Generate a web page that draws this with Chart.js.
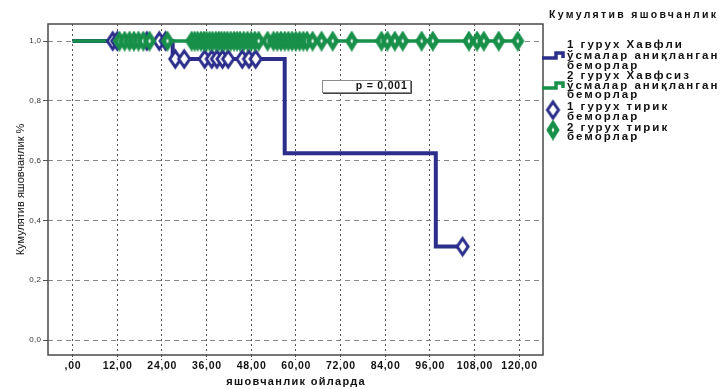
<!DOCTYPE html>
<html>
<head>
<meta charset="utf-8">
<script src="https://cdn.jsdelivr.net/npm/chart.js@4/dist/chart.umd.min.js"></script>
<style>
  html, body { margin: 0; padding: 0; background: #fff; overflow: hidden; }
  #wrap { width: 720px; height: 389px; position: relative; }
</style>
</head>
<body>
<div id="wrap"><canvas id="km" width="720" height="389"></canvas></div>
<script>
// Kaplan–Meier survival steps: months and cumulative survival
const group1Times = [0, 26.9, 57.0, 97.6, 104.8];
const group1Survival = [1.0, 0.94, 0.625, 0.3125, 0.3125];
const group2Times = [0, 119.6];
const group2Survival = [1.0, 1.0];

// Censored (alive) patients, group 1
const group1CensoredTimes = [10.8, 12.0, 20.0, 23.3, 25.0,
  27.6, 30.0, 35.5, 37.4, 38.8, 40.3, 41.8, 45.6, 47.4, 49.2, 104.8];
const group1CensoredSurvival = [1.0, 1.0, 1.0, 1.0, 1.0,
  0.94, 0.94, 0.94, 0.94, 0.94, 0.94, 0.94, 0.94, 0.94, 0.94, 0.3125];

// Censored (alive) patients, group 2
const group2CensoredTimes = [12.6, 14.0, 15.3, 16.5, 17.7, 19.0, 20.7, 25.5,
  32.0, 32.8, 33.6, 34.5, 35.3, 36.0, 36.8, 37.6, 38.5, 39.3, 40.0, 40.8, 41.6,
  42.5, 43.4, 44.2, 45.0, 46.0, 47.0, 48.0, 49.0, 50.0, 52.4, 54.0, 55.0, 56.0,
  57.0, 58.0, 59.0, 60.0, 61.0, 62.0, 63.0, 64.5, 66.9, 69.9, 75.0, 83.0, 84.6,
  86.6, 88.7, 93.8, 96.8, 106.5, 108.7, 110.5, 114.5, 119.6];
const group2CensoredSurvival = group2CensoredTimes.map(() => 1.0);

// Axis ticks
const xTickValues = [0, 12, 24, 36, 48, 60, 72, 84, 96, 108, 120];
const yTickValues = [0, 0.2, 0.4, 0.6, 0.8, 1.0];

// Texts
const legendTitle = 'Кумулятив яшовчанлик';
const legendItems = [
  ['1 гурух Хавфли', 'ўсмалар аниқланган', 'беморлар'],
  ['2 гурух Хавфсиз', 'ўсмалар аниқланган', 'беморлар'],
  ['1 гурух тирик', 'беморлар'],
  ['2 гурух тирик', 'беморлар']
];
const xTitle = 'яшовчанлик ойларда';
const yTitle = 'Кумулятив яшовчанлик %';
const pValueText = 'p = 0,001';

const BLUE = '#2b2e8a';
const GREEN = '#18904a';
const FONT = '"Liberation Sans", Arial, sans-serif';
const NARROW = '"Liberation Sans Narrow", "Liberation Sans", Arial, sans-serif';

function pts(xs, ys) { return xs.map((x, i) => ({ x: x, y: ys[i] })); }

// Diamond marker sprites
function diamond(w, h, fill, stroke, lw, innerColor) {
  const c = document.createElement('canvas');
  c.width = w + lw * 2; c.height = h + lw * 2;
  const g = c.getContext('2d');
  const cx = c.width / 2, cy = c.height / 2;
  g.beginPath();
  g.moveTo(cx, cy - h / 2); g.lineTo(cx + w / 2, cy);
  g.lineTo(cx, cy + h / 2); g.lineTo(cx - w / 2, cy); g.closePath();
  g.fillStyle = fill; g.fill();
  g.lineWidth = lw; g.strokeStyle = stroke; g.lineJoin = 'miter'; g.stroke();
  if (innerColor) {
    g.beginPath();
    g.moveTo(cx, cy - 2.4); g.lineTo(cx + 1.3, cy);
    g.lineTo(cx, cy + 2.4); g.lineTo(cx - 1.3, cy); g.closePath();
    g.fillStyle = innerColor; g.fill();
  }
  return c;
}
const blueDiamond = diamond(11, 16, '#ffffff', BLUE, 3, null);
const greenDiamond = diamond(12, 19, GREEN, GREEN, 1.2, '#ffffff');

function spacedText(ctx, text, x, y, font, spacing, align, color) {
  ctx.save();
  ctx.font = font;
  ctx.letterSpacing = spacing + 'px';
  ctx.fillStyle = color || '#000';
  ctx.textBaseline = 'middle';
  const w = ctx.measureText(text).width - spacing;
  let x0 = x;
  if (align === 'center') x0 = x - w / 2;
  else if (align === 'right') x0 = x - w;
  ctx.textAlign = 'left';
  ctx.fillText(text, x0, y);
  ctx.restore();
}

const decorations = {
  id: 'decorations',
  beforeDraw(chart) {
    const ctx = chart.ctx;
    ctx.save();
    ctx.fillStyle = '#ffffff';
    ctx.fillRect(0, 0, chart.width, chart.height);
    ctx.restore();
  },
  afterDatasetsDraw(chart) {
    const ctx = chart.ctx;
    const xs = chart.scales.x, ys = chart.scales.y;
    // p-value box
    const bx0 = xs.getPixelForValue(66.9), bx1 = xs.getPixelForValue(90.6);
    const by0 = ys.getPixelForValue(0.870), by1 = ys.getPixelForValue(0.829);
    ctx.save();
    ctx.fillStyle = '#ffffff';
    ctx.fillRect(bx0, by0, bx1 - bx0, by1 - by0);
    ctx.strokeStyle = '#8a8a8a';
    ctx.lineWidth = 1;
    ctx.strokeRect(Math.round(bx0) + 0.5, Math.round(by0) + 0.5, Math.round(bx1 - bx0), Math.round(by1 - by0));
    ctx.strokeStyle = '#444';
    ctx.beginPath();
    ctx.moveTo(Math.round(bx1) + 1.5, Math.round(by0) + 1);
    ctx.lineTo(Math.round(bx1) + 1.5, Math.round(by1) + 1.5);
    ctx.lineTo(Math.round(bx0) + 1, Math.round(by1) + 1.5);
    ctx.stroke();
    ctx.restore();
    spacedText(ctx, pValueText, bx1 - 3, (by0 + by1) / 2 + 0.5, 'bold 10.5px ' + FONT, 0.8, 'right', '#111');
  },
  afterDraw(chart) {
    const ctx = chart.ctx;
    const a = chart.chartArea;
    const xs = chart.scales.x, ys = chart.scales.y;
    // frame
    ctx.save();
    ctx.strokeStyle = '#4a4a4a';
    ctx.lineWidth = 1.5;
    ctx.strokeRect(a.left, a.top, a.right - a.left, a.bottom - a.top);
    ctx.restore();
    // tick labels
    xTickValues.forEach(v => {
      const label = v === 0 ? ',00' : v.toFixed(2).replace('.', ',');
      spacedText(ctx, label, xs.getPixelForValue(v), a.bottom + 11, 'bold 10.5px ' + FONT, 0.7, 'center', '#111');
    });
    yTickValues.forEach(v => {
      const label = v.toFixed(1).replace('.', ',');
      spacedText(ctx, label, a.left - 7, ys.getPixelForValue(v), '8px ' + FONT, 0.3, 'right', '#333');
    });
    // axis titles
    spacedText(ctx, xTitle, (a.left + a.right) / 2, a.bottom + 27, 'bold 11px ' + FONT, 1.3, 'center', '#111');
    ctx.save();
    ctx.translate(21, (a.top + a.bottom) / 2);
    ctx.rotate(-Math.PI / 2);
    spacedText(ctx, yTitle, 0, 0, '11px ' + NARROW, 0, 'center', '#111');
    ctx.restore();
    // legend
    const lx = a.right + 24;
    spacedText(ctx, legendTitle, a.right + 6, 15, 'bold 10.5px ' + FONT, 2.3, 'left', '#111');
    const lineFont = 'bold 11.5px ' + FONT;
    const rows = [[45, 56, 66], [76, 86, 95], [107, 117], [128, 137]];
    legendItems.forEach((lines, i) => {
      lines.forEach((t, j) => spacedText(ctx, t, lx, rows[i][j], lineFont, 2.0, 'left', '#111'));
    });
    // legend symbols
    const step = (color, y) => {
      ctx.save();
      ctx.strokeStyle = color; ctx.lineWidth = 3.5; ctx.lineJoin = 'miter';
      ctx.beginPath();
      ctx.moveTo(a.right - 1, y + 2);
      ctx.lineTo(a.right + 13, y + 2);
      ctx.lineTo(a.right + 13, y - 3);
      ctx.lineTo(a.right + 20, y - 3);
      ctx.lineTo(a.right + 20, y + 2);
      ctx.stroke();
      ctx.restore();
    };
    step(BLUE, 56);
    step(GREEN, 86);
    ctx.drawImage(blueDiamond, a.right + 10 - blueDiamond.width / 2, 110 - blueDiamond.height / 2);
    ctx.drawImage(greenDiamond, a.right + 10 - greenDiamond.width / 2, 130 - greenDiamond.height / 2);
  }
};

new Chart(document.getElementById('km'), {
  type: 'scatter',
  data: {
    datasets: [
      {
        label: legendItems[0].join(' '),
        data: pts(group1Times, group1Survival),
        showLine: true, stepped: 'before', fill: false,
        borderColor: BLUE, borderWidth: 4, pointRadius: 0, order: 4
      },
      {
        label: legendItems[1].join(' '),
        data: pts(group2Times, group2Survival),
        showLine: true, stepped: 'before', fill: false,
        borderColor: GREEN, borderWidth: 3.5, pointRadius: 0, order: 3
      },
      {
        label: legendItems[2].join(' '),
        data: pts(group1CensoredTimes, group1CensoredSurvival),
        showLine: false, pointStyle: blueDiamond, pointRadius: 6, order: 2
      },
      {
        label: legendItems[3].join(' '),
        data: pts(group2CensoredTimes, group2CensoredSurvival),
        showLine: false, pointStyle: greenDiamond, pointRadius: 6, order: 1
      }
    ]
  },
  options: {
    responsive: false,
    animation: false,
    events: [],
    layout: { padding: { left: 0, right: 177, top: 24, bottom: 0 } },
    plugins: { legend: { display: false }, tooltip: { enabled: false } },
    scales: {
      x: {
        type: 'linear', min: -6.6, max: 126.4,
        afterBuildTicks: s => { s.ticks = xTickValues.map(v => ({ value: v })); },
        afterFit: s => { s.height = 34; },
        ticks: { display: false },
        grid: { color: '#555', lineWidth: 1, drawTicks: true, tickLength: 5, tickColor: '#555', tickBorderDash: [2, 2] },
        border: { display: false, dash: [2, 3] }
      },
      y: {
        type: 'linear', min: -0.05, max: 1.057,
        afterBuildTicks: s => { s.ticks = yTickValues.map(v => ({ value: v })); },
        afterFit: s => { s.width = 48; },
        ticks: { display: false },
        grid: { color: '#888', lineWidth: 1, drawTicks: true, tickLength: 5, tickColor: '#555' },
        border: { display: false, dash: [5, 4] }
      }
    }
  },
  plugins: [decorations]
});
</script>
</body>
</html>
